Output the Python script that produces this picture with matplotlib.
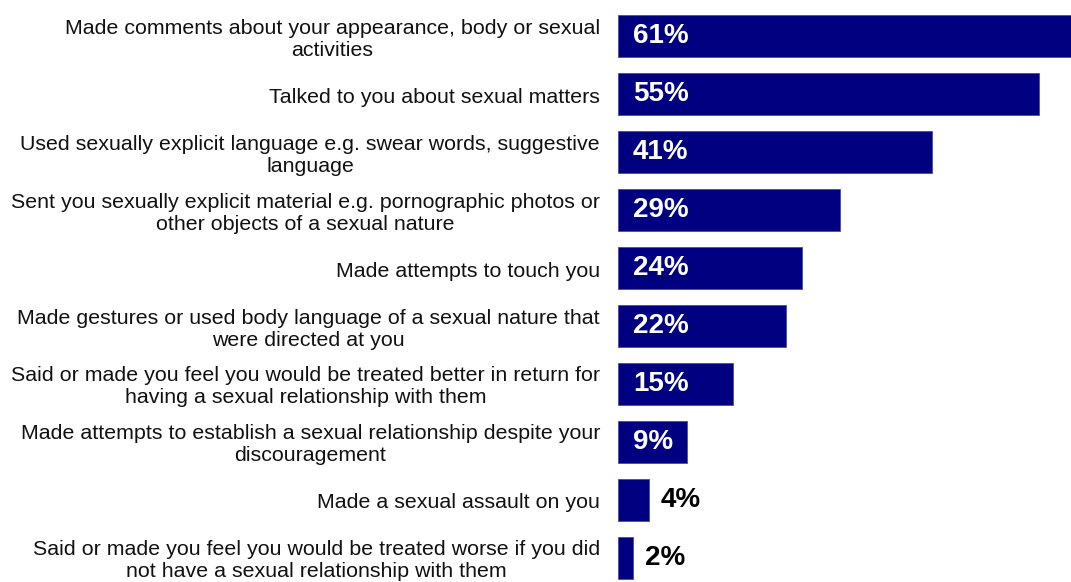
import matplotlib
matplotlib.use("Agg")
import matplotlib.pyplot as plt

categories = [
    "Made comments about your appearance, body or sexual\nactivities",
    "Talked to you about sexual matters",
    "Used sexually explicit language e.g. swear words, suggestive\nlanguage",
    "Sent you sexually explicit material e.g. pornographic photos or\nother objects of a sexual nature",
    "Made attempts to touch you",
    "Made gestures or used body language of a sexual nature that\nwere directed at you",
    "Said or made you feel you would be treated better in return for\nhaving a sexual relationship with them",
    "Made attempts to establish a sexual relationship despite your\ndiscouragement",
    "Made a sexual assault on you",
    "Said or made you feel you would be treated worse if you did\nnot have a sexual relationship with them",
]
values = [61, 55, 41, 29, 24, 22, 15, 9, 4, 2]

plt.rcParams["font.family"] = ["Liberation Sans", "DejaVu Sans"]

fig = plt.figure(figsize=(10.71, 5.82), dpi=100)
ax = fig.add_axes([618 / 1071, 0, 1 - 618 / 1071, 1])

bar_color = "#000080"
positions = list(range(len(values)))
ax.barh(positions, values, height=0.72, color=bar_color,
        edgecolor="#4a4aa6", linewidth=0.6)

ax.set_xlim(0, 59.2)
ax.set_ylim(9.414, -0.621)
ax.axis("off")

for y, label in zip(positions, categories):
    ax.annotate(label, xy=(0, y), xytext=(-18, -3), textcoords="offset pixels",
                ha="right", va="center", multialignment="center",
                fontsize=15.4, color="#111111", linespacing=1.2,
                annotation_clip=False)

for y, v in zip(positions, values):
    if v >= 9:
        ax.annotate(f"{v}%", xy=(0, y), xytext=(15, 0), textcoords="offset pixels",
                    ha="left", va="center", fontsize=20, fontweight="bold",
                    color="white")
    else:
        ax.annotate(f"{v}%", xy=(v, y), xytext=(12, 0), textcoords="offset pixels",
                    ha="left", va="center", fontsize=20, fontweight="bold",
                    color="black")

fig.savefig("out.png", dpi=100)
